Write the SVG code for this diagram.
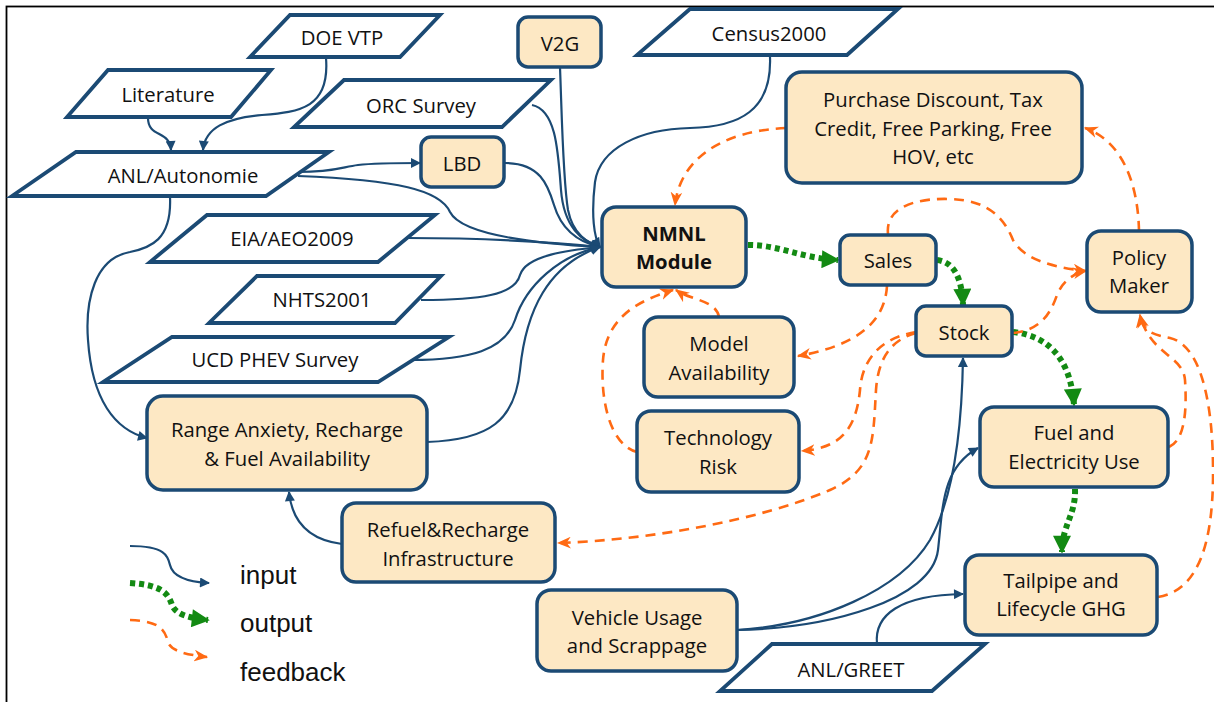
<svg xmlns="http://www.w3.org/2000/svg" width="1214" height="702" viewBox="0 0 1214 702">
<defs>
<style>
.pg{fill:#fff;stroke:#1B4A74;stroke-width:3.8;stroke-linejoin:miter}
.bx{fill:#FDE8C4;stroke:#1B4A74;stroke-width:3.5}
.t{font-family:"Open Sans","Liberation Sans",sans-serif;font-size:20.3px;fill:#111;text-anchor:middle;dominant-baseline:central}
.tb{font-weight:bold}
.lg{font-family:"Liberation Sans",Arial,sans-serif;font-size:26px;fill:#111;dominant-baseline:central}
.in{fill:none;stroke:#1B4A74;stroke-width:2.2}
.out{fill:none;stroke:#138A13;stroke-width:6;stroke-dasharray:5 4}
.fb{fill:none;stroke:#FF6A13;stroke-width:2.6;stroke-dasharray:10 7}
</style>
<marker id="ai" viewBox="0 0 10 10" refX="9" refY="5" markerWidth="12" markerHeight="10" markerUnits="userSpaceOnUse" orient="auto"><path d="M0,0 L10,5 L0,10 z" fill="#1B4A74"/></marker>
<marker id="ao" viewBox="0 0 10 10" refX="9" refY="5" markerWidth="20" markerHeight="18" markerUnits="userSpaceOnUse" orient="auto"><path d="M0,0 L10,5 L0,10 z" fill="#138A13"/></marker>
<marker id="af" viewBox="0 0 12 10" refX="11" refY="5" markerWidth="14" markerHeight="12" markerUnits="userSpaceOnUse" orient="auto"><path d="M0,0 L12,5 L0,10 L3.5,5 z" fill="#FF6A13"/></marker>
</defs>
<rect x="6.5" y="6.5" width="1240" height="730" fill="#fff" stroke="#000" stroke-width="1.8"/>

<g id="connectors">
<!-- inputs -->
<path class="in" marker-end="url(#ai)" d="M148,118 C148,138 170,130 171,150"/>
<path class="in" marker-end="url(#ai)" d="M326,58 C330,108 300,112 262,115 C226,118 205,128 203,150"/>
<path class="in" marker-end="url(#ai)" d="M298,172 C335,172 342,167 358,165 C375,163 400,163 420,163"/>
<path class="in" marker-end="url(#ai)" d="M298,176 C398,180 440,190 450,212 C462,236 545,244 600,247"/>
<path class="in" marker-end="url(#ai)" d="M505,163 C540,163 548,185 554,205 C562,232 582,243 600,247"/>
<path class="in" marker-end="url(#ai)" d="M532,105 C556,110 558,150 561,190 C564,228 582,241 600,247"/>
<path class="in" marker-end="url(#ai)" d="M560,67 C562,120 563,180 568,210 C573,235 588,243 600,247"/>
<path class="in" marker-end="url(#ai)" d="M770,57 C772,110 740,127 690,128 C640,129 600,148 595,182 C591,215 594,238 600,247"/>
<path class="in" marker-end="url(#ai)" d="M407,238 C480,238 550,242 600,247"/>
<path class="in" marker-end="url(#ai)" d="M421,300 C480,300 515,295 520,275 C526,255 570,250 600,247"/>
<path class="in" marker-end="url(#ai)" d="M411,360 C470,360 505,350 515,320 C526,285 560,255 600,247"/>
<path class="in" marker-end="url(#ai)" d="M427,442 C490,440 515,420 520,370 C526,310 548,265 600,247"/>
<path class="in" marker-end="url(#ai)" d="M170,197 C172,240 150,248 130,252 C95,258 85,300 88,340 C92,400 115,430 147,438"/>
<path class="in" marker-end="url(#ai)" d="M342,544 C310,540 292,522 289,492"/>
<path class="in" marker-end="url(#ai)" d="M737,630 C820,625 900,590 930,540 C955,495 962,420 963,358"/>
<path class="in" marker-end="url(#ai)" d="M737,630 C830,628 932,600 938,550 C943,505 942,468 978,448"/>
<path class="in" marker-end="url(#ai)" d="M877,644 C874,615 900,595 963,594"/>
<!-- outputs -->
<path class="out" marker-end="url(#ao)" d="M748,245 C780,245 800,258 838,260"/>
<path class="out" marker-end="url(#ao)" d="M937,260 C955,262 962,280 963,305"/>
<path class="out" marker-end="url(#ao)" d="M1013,332 C1040,335 1070,350 1074,405"/>
<path class="out" marker-end="url(#ao)" d="M1075,489 C1076,515 1062,525 1062,552"/>
<!-- feedback -->
<path class="fb" marker-end="url(#af)" d="M786,128 C720,131 680,160 675,205"/>
<path class="fb" marker-end="url(#af)" d="M1139,231 C1138,180 1120,140 1085,128"/>
<path class="fb" marker-end="url(#af)" d="M888,234 C885,205 920,198 950,199 C990,200 1005,220 1013,240 C1025,262 1060,268 1086,271"/>
<path class="fb" marker-end="url(#af)" d="M1013,333 C1040,330 1050,315 1057,295 C1063,280 1075,273 1086,271"/>
<path class="fb" marker-end="url(#af)" d="M887,286 C885,320 860,345 798,356"/>
<path class="fb" marker-end="url(#af)" d="M916,332 C880,338 862,360 860,390 C856,430 840,448 802,451"/>
<path class="fb" marker-end="url(#af)" d="M916,333 C890,340 878,360 876,390 C873,440 875,470 830,490 C760,520 650,540 558,543"/>
<path class="fb" marker-end="url(#af)" d="M719,317 C716,300 690,300 676,290"/>
<path class="fb" marker-end="url(#af)" d="M637,452 C610,445 600,400 603,360 C607,310 650,298 673,290"/>
<path class="fb" marker-end="url(#af)" d="M1169,447 C1185,440 1187,410 1185,380 C1183,355 1150,355 1140,315"/>
<path class="fb" marker-end="url(#af)" d="M1158,597 C1200,590 1212,540 1213,480 C1214,400 1200,345 1170,338 C1150,334 1142,330 1140,315"/>
</g>

<g id="doe-vtp"><polygon class="pg" points="290,15 440,15 400,57 250,57"/><text class="t" x="342" y="37">DOE VTP</text></g>
<g id="literature"><polygon class="pg" points="108,70 271,70 231,117 67,117"/><text class="t" x="168" y="94">Literature</text></g>
<g id="orc-survey"><polygon class="pg" points="344,80 551,80 502,127 294,127"/><text class="t" x="421" y="105">ORC Survey</text></g>
<g id="anl-autonomie"><polygon class="pg" points="76,152 329,152 266,196 12,196"/><text class="t" x="183" y="175">ANL/Autonomie</text></g>
<g id="eia"><polygon class="pg" points="207,215 435,215 378,262 150,262"/><text class="t" x="292" y="238">EIA/AEO2009</text></g>
<g id="nhts"><polygon class="pg" points="257,276 441,276 395,323 209,323"/><text class="t" x="322" y="299">NHTS2001</text></g>
<g id="ucd"><polygon class="pg" points="172,337 449,337 378,382 103,382"/><text class="t" x="275" y="359">UCD PHEV Survey</text></g>
<g id="census"><polygon class="pg" points="690,9 898,9 847,55 637,55"/><text class="t" x="769" y="33">Census2000</text></g>
<g id="anl-greet"><polygon class="pg" points="772,644 985,644 932,691 720,691"/><text class="t" x="851" y="669">ANL/GREET</text></g>

<g id="v2g"><rect class="bx" x="518" y="17" width="83" height="50" rx="10"/><text class="t" x="560" y="43">V2G</text></g>
<g id="lbd"><rect class="bx" x="421" y="137" width="83" height="50" rx="10"/><text class="t" x="462" y="163">LBD</text></g>
<g id="policy-measures"><rect class="bx" x="786" y="72" width="296" height="111" rx="16"/><text class="t" x="933" y="99">Purchase Discount, Tax</text><text class="t" x="933" y="128">Credit, Free Parking, Free</text><text class="t" x="933" y="156">HOV, etc</text></g>
<g id="nmnl"><rect class="bx" x="602" y="207" width="144" height="80" rx="14"/><text class="t tb" x="674" y="233">NMNL</text><text class="t tb" x="674" y="261">Module</text></g>
<g id="sales"><rect class="bx" x="840" y="235" width="96" height="50" rx="10"/><text class="t" x="888" y="260">Sales</text></g>
<g id="policy-maker"><rect class="bx" x="1087" y="231" width="105" height="81" rx="14"/><text class="t" x="1139" y="257">Policy</text><text class="t" x="1139" y="285">Maker</text></g>
<g id="stock"><rect class="bx" x="916" y="306" width="96" height="50" rx="10"/><text class="t" x="964" y="332">Stock</text></g>
<g id="model-availability"><rect class="bx" x="644" y="317" width="150" height="80" rx="14"/><text class="t" x="719" y="343">Model</text><text class="t" x="719" y="372">Availability</text></g>
<g id="technology-risk"><rect class="bx" x="637" y="411" width="162" height="81" rx="14"/><text class="t" x="718" y="437">Technology</text><text class="t" x="718" y="466">Risk</text></g>
<g id="fuel-use"><rect class="bx" x="980" y="407" width="188" height="80" rx="14"/><text class="t" x="1074" y="432">Fuel and</text><text class="t" x="1074" y="461">Electricity Use</text></g>
<g id="range-anxiety"><rect class="bx" x="147" y="396" width="280" height="94" rx="16"/><text class="t" x="287" y="429">Range Anxiety,  Recharge</text><text class="t" x="287" y="458">&amp; Fuel Availability</text></g>
<g id="refuel"><rect class="bx" x="342" y="503" width="213" height="79" rx="14"/><text class="t" x="448" y="529">Refuel&amp;Recharge</text><text class="t" x="448" y="558">Infrastructure</text></g>
<g id="vehicle-usage"><rect class="bx" x="537" y="590" width="200" height="81" rx="14"/><text class="t" x="637" y="617">Vehicle Usage</text><text class="t" x="637" y="645">and Scrappage</text></g>
<g id="tailpipe"><rect class="bx" x="965" y="555" width="192" height="80" rx="14"/><text class="t" x="1061" y="580">Tailpipe and</text><text class="t" x="1061" y="608">Lifecycle GHG</text></g>

<g id="legend">
<path class="in" marker-end="url(#ai)" d="M130,546 C165,546 168,556 170,565 C173,578 190,582 209,583"/>
<path class="out" marker-end="url(#ao)" d="M130,583 C160,585 168,592 172,605 C176,615 190,618 208,620"/>
<path class="fb" marker-end="url(#af)" d="M130,620 C160,621 165,630 168,642 C171,652 190,655 207,657"/>
<text class="lg" x="240" y="575">input</text>
<text class="lg" x="240" y="623">output</text>
<text class="lg" x="240" y="672">feedback</text>
</g>
</svg>
